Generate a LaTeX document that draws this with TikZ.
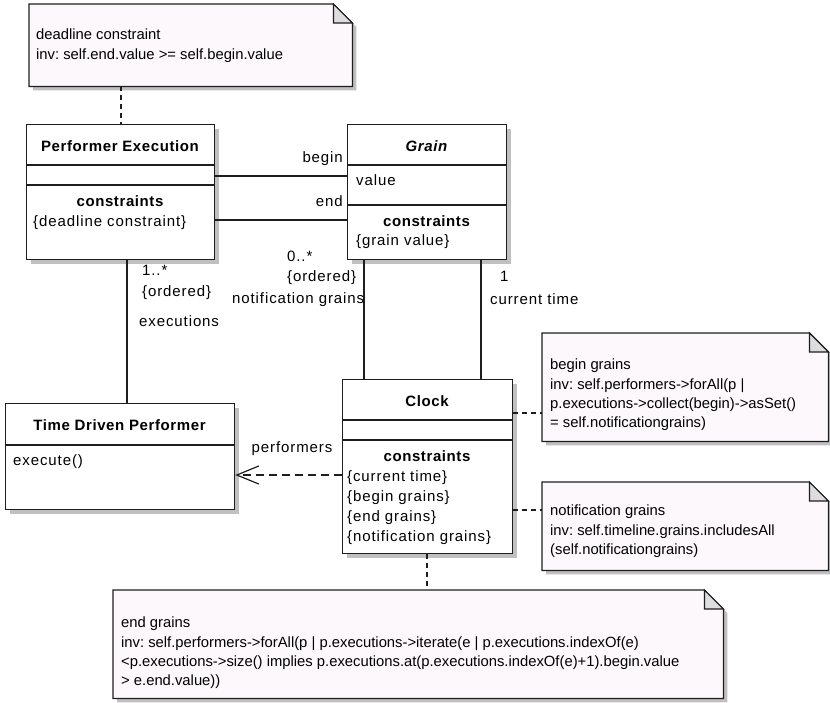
\documentclass[tikz,border=0pt]{standalone}
\usepackage{fontspec}
\setmainfont{Liberation Sans}
\newfontfamily\clsfont{Liberation Sans}[LetterSpace=6]
\newfontfamily\clshead{Liberation Sans}[LetterSpace=4]
\usetikzlibrary{shadows,arrows.meta}
\pgfdeclarelayer{background}
\pgfsetlayers{background,main}
\definecolor{notefill}{RGB}{253,248,251}
\definecolor{foldfill}{RGB}{221,221,224}
\definecolor{shadowgray}{RGB}{192,192,192}
\definecolor{ink}{RGB}{30,30,30}
\frenchspacing

% note with a folded top-right corner and a grey drop shadow, drawn behind its text
\newcommand\drawnote[1]{%
  \begin{pgfonlayer}{background}
    \fill[shadowgray] ([shift={(4pt,-4pt)}]#1.north west) -- ([shift={(-15pt,-4pt)}]#1.north east)
      -- ([shift={(4pt,-23pt)}]#1.north east) -- ([shift={(4pt,-4pt)}]#1.south east)
      -- ([shift={(4pt,-4pt)}]#1.south west) -- cycle;
    \filldraw[fill=notefill, draw=ink, line width=1.2pt, line join=miter] (#1.north west) -- ([xshift=-19pt]#1.north east)
      -- ([yshift=-19pt]#1.north east) -- (#1.south east) -- (#1.south west) -- cycle;
    \filldraw[fill=foldfill, draw=ink, line width=1.2pt, line join=miter] ([xshift=-19pt]#1.north east)
      -- ([xshift=-19pt,yshift=-19pt]#1.north east) -- ([yshift=-19pt]#1.north east) -- cycle;
  \end{pgfonlayer}}

\begin{document}
\begin{tikzpicture}[x=1pt, y=-1pt,
  classbox/.style={draw=ink, fill=white, line width=1.2pt, inner sep=0pt, anchor=north west,
    drop shadow={shadow xshift=4pt, shadow yshift=-4pt, fill=shadowgray, opacity=1}},
  notebox/.style={inner sep=0pt, anchor=north west},
  txt/.style={inner sep=0pt, font=\fontsize{15}{19.3}\selectfont\clsfont, text height=11pt, text depth=3pt},
  head/.style={txt, font=\fontsize{15}{19.3}\selectfont\clshead\bfseries},
  notetxt/.style={inner sep=0pt, anchor=north west, align=left, font=\fontsize{14.8}{19.3}\selectfont},
  assoc/.style={draw=ink, line width=1.2pt},
  link/.style={draw=ink, line width=1.2pt, dash pattern=on 5pt off 4pt},
  dep/.style={draw=ink, line width=1.2pt, dash pattern=on 8pt off 5pt,
    -{Straight Barb[length=22pt, width=18pt, line width=1.2pt]}}
]
\useasboundingbox (0,0) rectangle (830,702);

% ---- classes ----
\node[classbox, minimum width=188pt, minimum height=135pt] (pe) at (26,124) {};
\node[classbox, minimum width=159pt, minimum height=135pt] (grain) at (347,124) {};
\node[classbox, minimum width=229pt, minimum height=106pt] (tdp) at (5,403) {};
\node[classbox, minimum width=170pt, minimum height=174pt] (clock) at (342,379) {};

% compartment separators
\draw[assoc] ([yshift=-41pt]pe.north west) -- ([yshift=-41pt]pe.north east);
\draw[assoc] ([yshift=-61pt]pe.north west) -- ([yshift=-61pt]pe.north east);
\draw[assoc] ([yshift=-41pt]grain.north west) -- ([yshift=-41pt]grain.north east);
\draw[assoc] ([yshift=-81pt]grain.north west) -- ([yshift=-81pt]grain.north east);
\draw[assoc] ([yshift=-42pt]tdp.north west) -- ([yshift=-42pt]tdp.north east);
\draw[assoc] ([yshift=-41pt]clock.north west) -- ([yshift=-41pt]clock.north east);
\draw[assoc] ([yshift=-61pt]clock.north west) -- ([yshift=-61pt]clock.north east);

% class texts
\node[head] (pe-name) at (120,147) {Performer Execution};
\node[head] (pe-cons) at (120,202) {constraints};
\node[txt, anchor=west] (pe-dl) at (33,222) {\{deadline constraint\}};

\node[head, font=\fontsize{15}{19.3}\selectfont\clshead\bfseries\itshape] (grain-name) at (426.5,147) {Grain};
\node[txt, anchor=west] (grain-val) at (356,181) {value};
\node[head] (grain-cons) at (426.5,222) {constraints};
\node[txt, anchor=west] (grain-gv) at (356,241) {\{grain value\}};

\node[head] (tdp-name) at (119.5,426) {Time Driven Performer};
\node[txt, anchor=west] (tdp-op) at (13,461) {execute()};

\node[head] (clock-name) at (427,402) {Clock};
\node[head] (clock-cons) at (427,457) {constraints};
\node[txt, anchor=west] (clock-c1) at (347,477) {\{current time\}};
\node[txt, anchor=west] (clock-c2) at (347,497) {\{begin grains\}};
\node[txt, anchor=west] (clock-c3) at (347,517) {\{end grains\}};
\node[txt, anchor=west] (clock-c4) at (347,537) {\{notification grains\}};

% ---- notes ----
\node[notebox, minimum width=323pt, minimum height=82pt] (note1) at (29,4) {};
\drawnote{note1}
\node[notetxt] (note1-txt) at (36,29) {deadline constraint\\inv: self.end.value >= self.begin.value};

\node[notebox, minimum width=286pt, minimum height=108pt] (note2) at (542,333) {};
\drawnote{note2}
\node[notetxt] (note2-txt) at (550,359) {begin grains\\inv: self.performers->forAll(p |\\p.executions->collect(begin)->asSet()\\= self.notificationgrains)};

\node[notebox, minimum width=286pt, minimum height=88pt] (note3) at (542,482) {};
\drawnote{note3}
\node[notetxt] (note3-txt) at (550,505) {notification grains\\inv: self.timeline.grains.includesAll\\(self.notificationgrains)};

\node[notebox, minimum width=610pt, minimum height=108pt] (note4) at (113,590) {};
\drawnote{note4}
\node[notetxt] (note4-txt) at (121,617) {end grains\\inv: self.performers->forAll(p | p.executions->iterate(e | p.executions.indexOf(e)\\<p.executions->size() implies p.executions.at(p.executions.indexOf(e)+1).begin.value\\> e.end.value))};

% ---- connectors ----
\draw[link] ([xshift=92pt]note1.south west) -- ([xshift=95pt]pe.north west);
\draw[assoc] ([yshift=-52pt]pe.north east) -- ([yshift=-52pt]grain.north west);
\draw[assoc] ([yshift=-96pt]pe.north east) -- ([yshift=-96pt]grain.north west);
\draw[assoc] ([xshift=101pt]pe.south west) -- ([xshift=122pt]tdp.north west);
\draw[assoc] ([xshift=17pt]grain.south west) -- ([xshift=22pt]clock.north west);
\draw[assoc] ([xshift=134pt]grain.south west) -- ([xshift=139pt]clock.north west);
\draw[dep] ([yshift=-96pt]clock.north west) -- ([yshift=-72pt]tdp.north east);
\draw[link] ([yshift=-34pt]clock.north east) -- ([yshift=-80pt]note2.north west);
\draw[link] ([yshift=-131pt]clock.north east) -- ([yshift=-28pt]note3.north west);
\draw[link] ([xshift=85pt]clock.south west) -- ([xshift=314pt]note4.north west);

% ---- association end labels ----
\node[txt, anchor=east] (l-begin) at (343,158) {begin};
\node[txt, anchor=east] (l-end) at (343,202) {end};
\node[txt, anchor=west] (l-exm) at (142,271) {1..*};
\node[txt, anchor=west] (l-exo) at (142,292) {\{ordered\}};
\node[txt, anchor=west] (l-ex) at (139,322) {executions};
\node[txt, anchor=west] (l-ngm) at (287,257) {0..*};
\node[txt, anchor=west] (l-ngo) at (287,277) {\{ordered\}};
\node[txt, anchor=west] (l-ng) at (232,299) {notification grains};
\node[txt, anchor=west] (l-ctm) at (500,277) {1};
\node[txt, anchor=west] (l-ct) at (490,300) {current time};
\node[txt] (l-perf) at (292,448) {performers};
\end{tikzpicture}
\end{document}
